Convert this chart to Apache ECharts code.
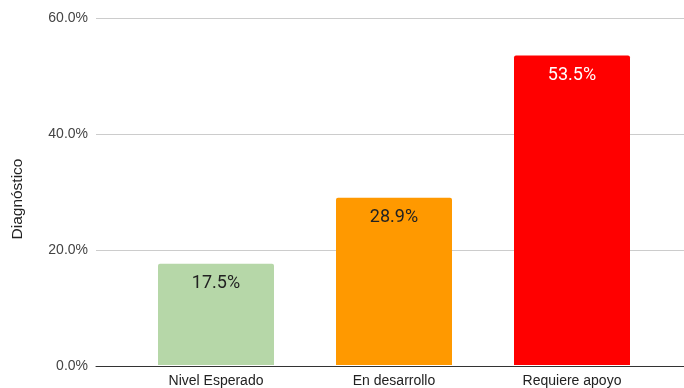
<!DOCTYPE html>
<html><head><meta charset="utf-8">
<script src="https://cdn.jsdelivr.net/npm/echarts@6/dist/echarts.min.js"></script>
<style>html,body{margin:0;padding:0;background:#fff}#c{width:684px;height:388px}</style>
</head><body><div id="c"></div>
<script>
const categories = ['Nivel Esperado', 'En desarrollo', 'Requiere apoyo'];
const values = [17.5, 28.9, 53.5];
const colors = ['#b6d7a8', '#ff9900', '#ff0000'];
const labelColors = ['#222222', '#222222', '#ffffff'];
const yTicks = [0, 20, 40, 60];
const yName = 'Diagnóstico';
const axisFont = '"Liberation Sans", Arial, sans-serif';

const chart = echarts.init(document.getElementById('c'));
chart.setOption({
  animation: false,
  grid: [
    {left: 127, right: 23, top: 18, bottom: 22},
    {left: 96, right: 0, top: 18, bottom: 22}
  ],
  xAxis: [
    {type: 'category', gridIndex: 0, data: categories,
     axisLine: {show: false}, axisTick: {show: false},
     axisLabel: {color: '#222', fontSize: 14, fontFamily: axisFont, margin: 9}},
    {type: 'value', gridIndex: 1, min: 0, max: 1, show: true,
     axisLine: {show: true, onZero: false, lineStyle: {color: '#333', width: 1}},
     axisTick: {show: false}, axisLabel: {show: false}, splitLine: {show: false}}
  ],
  yAxis: [
    {type: 'value', gridIndex: 0, min: yTicks[0], max: yTicks[yTicks.length-1], interval: 20, show: false, splitLine: {show: false}},
    {type: 'value', gridIndex: 1, min: yTicks[0], max: yTicks[yTicks.length-1], interval: 20,
     name: yName, nameLocation: 'middle', nameRotate: 90, nameGap: 70,
     nameTextStyle: {color: '#222', fontSize: 15.5, fontFamily: axisFont, padding: [0, 14, 0, 0]},
     axisLine: {show: false}, axisTick: {show: false},
     axisLabel: {color: '#444', fontSize: 14, fontFamily: axisFont, margin: 8,
       formatter: v => v.toFixed(1) + '%'},
     splitLine: {lineStyle: {color: '#cccccc', width: 1}}}
  ],
  series: [{
    type: 'bar', xAxisIndex: 0, yAxisIndex: 0,
    barWidth: 116,
    data: values.map((v, i) => ({value: v,
      itemStyle: {color: colors[i], borderRadius: [2, 2, 0, 0]},
      label: {color: labelColors[i]}})),
    label: {show: true, position: 'insideTop', distance: 11, fontSize: 18, fontFamily: 'Roboto',
      formatter: p => p.value.toFixed(1) + '%'}
  }]
});
</script></body></html>
